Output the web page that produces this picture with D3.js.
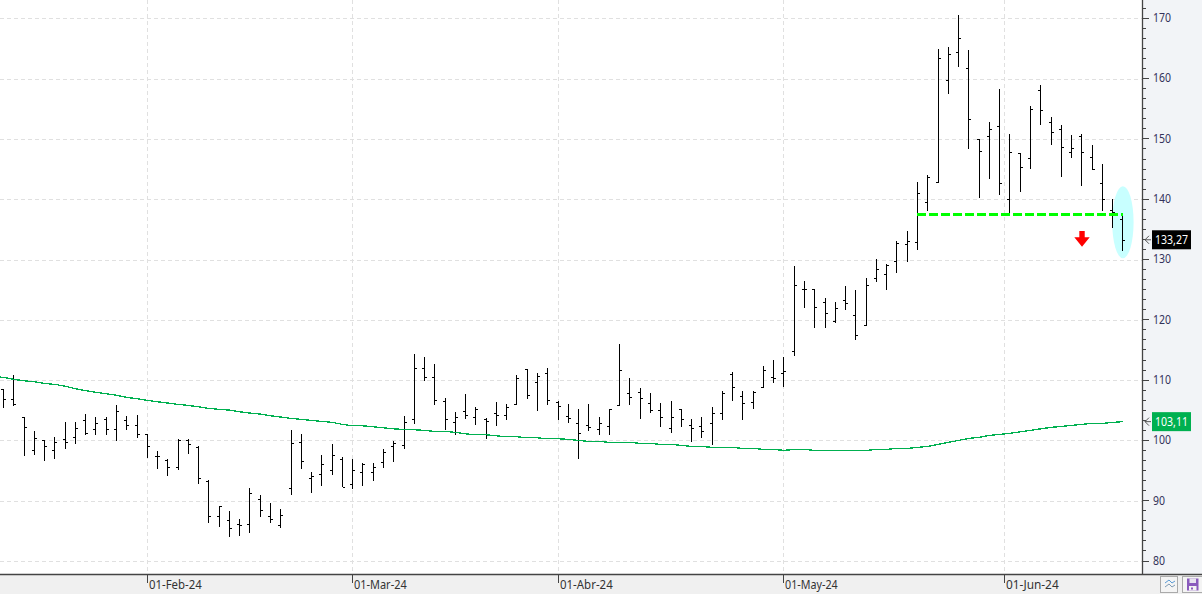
<!DOCTYPE html>
<html><head><meta charset="utf-8">
<script src="https://cdnjs.cloudflare.com/ajax/libs/d3/7.8.5/d3.min.js"></script>
<style>
html,body{margin:0;padding:0;background:#fff;overflow:hidden}
svg{display:block}
text{font-family:"Noto Sans",sans-serif}
</style></head><body><svg id="c" width="1202" height="594"></svg>
<script>
const highs=[108.47,110.84,103.93,101.56,100.06,100.51,103.05,103.05,104.32,103.88,
103.82,105.81,104.10,104.21,101.06,98.24,96.91,100.17,100.17,99.01,
93.37,89.12,88.29,87.02,92.10,90.94,89.56,88.62,101.72,101.06,
94.76,97.58,99.40,97.19,96.92,96.31,96.31,98.57,99.84,104.05,
114.33,113.83,112.67,107.03,104.71,107.69,105.54,103.66,106.37,106.04,
110.85,111.84,111.18,112.01,106.48,106.04,105.21,106.04,103.88,105.21,
115.99,110.35,108.69,107.86,106.20,106.54,105.21,103.55,103.88,105.54,
108.14,111.29,108.19,108.14,112.34,113.34,113.83,128.92,126.44,125.11,
123.62,122.95,125.61,124.94,126.93,130.08,129.20,133.07,134.73,142.86,
144.02,164.91,165.24,170.55,164.75,149.99,152.81,158.28,150.82,147.67,
155.40,158.94,153.64,152.25,150.65,150.82,148.99,145.84,140.04,137.38];
const lows=[105.42,105.76,97.46,97.58,96.64,96.97,98.51,99.45,100.95,100.95,
100.95,99.95,101.78,100.45,97.13,95.31,94.15,95.14,97.80,92.82,
86.35,85.69,84.03,84.20,84.69,87.35,86.35,85.52,91.00,95.31,
91.33,92.49,94.32,92.22,91.94,92.49,93.32,95.48,96.47,98.63,
102.77,109.91,105.93,101.72,100.90,103.60,102.61,100.23,102.39,103.38,
105.98,106.87,104.93,105.93,103.44,102.94,96.97,101.62,100.95,100.95,
105.82,105.93,103.61,104.60,102.28,101.28,102.28,99.79,100.46,99.29,
103.44,106.59,103.44,105.27,108.80,109.58,108.86,114.05,122.01,118.70,
118.70,119.53,121.68,116.71,119.09,126.32,124.94,127.76,129.64,131.63,
138.10,142.75,157.51,161.98,148.38,140.26,143.41,140.76,137.49,141.25,
145.07,152.36,149.05,143.74,146.89,142.25,144.90,138.05,135.28,131.47];
const opens=[108.47,106.81,103.88,98.35,100.01,98.35,100.17,100.51,103.32,101.83,
103.49,101.83,103.32,102.50,101.00,97.41,96.75,95.64,100.06,98.96,
93.32,87.46,86.74,86.19,86.08,90.28,87.40,86.02,92.10,99.68,
93.71,94.37,95.04,96.97,92.71,94.70,94.70,96.36,99.02,99.18,
103.49,111.95,110.46,106.48,103.00,104.82,103.83,103.49,104.49,104.16,
105.98,111.79,109.63,111.12,106.37,103.99,102.83,102.50,101.84,102.39,
105.82,107.81,107.97,106.15,104.99,102.00,105.15,102.50,102.39,102.83,
104.49,110.96,107.42,106.32,108.91,110.46,111.12,114.77,125.06,125.06,
122.90,119.75,123.23,120.80,119.09,126.88,127.55,129.75,132.57,132.91,
139.48,142.91,159.72,164.36,161.71,149.93,150.43,152.09,140.04,147.61,
146.78,158.06,152.75,151.59,147.83,150.43,146.95,142.64,138.16,136.72];
const closes=[106.81,105.98,102.16,100.34,99.01,99.68,99.68,102.05,101.17,102.88,
101.83,104.82,102.55,101.00,99.01,97.46,95.53,100.06,99.34,93.71,
87.46,89.06,85.41,85.97,91.22,88.40,86.91,87.57,99.51,96.53,
94.04,96.14,97.52,92.27,95.04,96.09,95.53,98.02,99.57,103.00,
111.95,110.51,106.64,103.49,103.83,104.16,105.21,103.16,104.16,105.48,
110.29,107.47,110.62,106.64,105.65,103.66,101.17,102.17,102.83,105.15,
111.68,107.14,107.03,105.10,103.88,103.88,103.50,102.00,101.51,104.55,
107.86,108.86,106.15,108.03,111.68,110.30,111.51,125.77,125.06,122.07,
121.13,121.90,122.73,117.43,125.72,128.37,129.09,132.68,133.02,140.98,
143.69,163.37,164.03,166.68,153.25,147.94,151.59,142.64,147.83,145.29,
154.91,154.74,151.09,148.61,148.44,147.83,145.07,139.98,137.83,133.27];
/* moving average; maPrev belongs to the session before the first bar */
const maPrev=110.62;
const maValues=[110.45,110.12,109.89,109.72,109.45,109.29,109.00,108.57,108.24,107.97,
107.74,107.48,107.14,106.91,106.63,106.41,106.20,105.97,105.80,105.57,
105.31,105.14,105.03,104.75,104.53,104.37,104.09,103.87,103.65,103.48,
103.32,103.15,102.99,102.65,102.42,102.42,102.26,102.09,101.92,101.82,
101.76,101.66,101.49,101.49,101.33,101.09,100.93,100.93,100.76,100.60,
100.60,100.43,100.43,100.27,100.27,100.17,100.00,99.83,99.83,99.67,
99.67,99.67,99.50,99.50,99.34,99.34,99.17,99.00,99.00,98.84,
98.84,98.84,98.67,98.67,98.51,98.51,98.34,98.51,98.51,98.34,
98.34,98.34,98.34,98.34,98.34,98.51,98.51,98.67,98.67,98.84,
99.00,99.34,99.67,100.00,100.33,100.50,100.83,101.00,101.16,101.43,
101.66,101.92,102.16,102.32,102.49,102.65,102.82,102.82,102.99,103.11];
const dateLabels=["01-Feb-24","01-Mar-24","01-Abr-24","01-May-24","01-Jun-24"];
const dateIndex=[14,34,54,76,97.5];
const yMajor=[80,90,100,110,120,130,140,150,160,170];
const lastPriceLabel="133,27";
const lastMaLabel="103,11";
const signalLevel=137.5, signalFrom=89, signalTo=109;
const ovalIndex=109, ovalTop=142.14, ovalBottom=130.2;
const arrowIndex=105, arrowTop=134.72;

const W=1202,H=594,axisX=1142,axisY=574;
const svg=d3.select("#c");
const x=d3.scaleLinear().domain([0,109]).range([3.5,1122.9]);
const y=d3.scaleLinear().domain([80,170]).range([561.0,18.3]);
const px=i=>Math.floor(x(i))+0.5;
const py=v=>Math.round(y(v))+0.5;

svg.append("rect").attr("x",axisX).attr("y",0).attr("width",W-axisX).attr("height",axisY).attr("fill","#f2f4f7");
svg.append("rect").attr("x",0).attr("y",axisY).attr("width",W).attr("height",H-axisY).attr("fill","#f0f0f0");

const grid=svg.append("g").attr("stroke","#e0e0e0").attr("stroke-width",1).attr("stroke-dasharray","4 3").attr("shape-rendering","crispEdges");
grid.selectAll("line.h").data(yMajor).join("line").attr("class","h")
 .attr("x1",0).attr("x2",axisX).attr("y1",d=>py(d)).attr("y2",d=>py(d));
grid.selectAll("line.v").data(dateIndex).join("line").attr("class","v")
 .attr("x1",d=>px(d)).attr("x2",d=>px(d)).attr("y1",0).attr("y2",axisY);

svg.append("ellipse").attr("cx",x(ovalIndex)).attr("cy",(y(ovalTop)+y(ovalBottom))/2)
 .attr("rx",10.7).attr("ry",(y(ovalBottom)-y(ovalTop))/2).attr("fill","#c8ffff");

const n=highs.length, idx=d3.range(n);
const bars=svg.append("g").attr("stroke","#000").attr("stroke-width",1).attr("shape-rendering","crispEdges");
bars.selectAll("line.r").data(idx).join("line").attr("class","r")
 .attr("x1",px).attr("x2",px).attr("y1",i=>Math.round(y(highs[i]))).attr("y2",i=>Math.round(y(lows[i])));
bars.selectAll("line.o").data(idx).join("line").attr("class","o")
 .attr("x1",i=>px(i)-2.5).attr("x2",px).attr("y1",i=>py(opens[i])).attr("y2",i=>py(opens[i]));
bars.selectAll("line.c").data(idx).join("line").attr("class","c")
 .attr("x1",px).attr("x2",i=>px(i)+2.5).attr("y1",i=>py(closes[i])).attr("y2",i=>py(closes[i]));

const maPts=[[-1,maPrev]].concat(maValues.map((v,i)=>[i,v]));
svg.append("path").datum(maPts).attr("fill","none").attr("stroke","#00b050").attr("stroke-width",1.3)
 .attr("shape-rendering","crispEdges")
 .attr("d",d3.line().x(d=>x(d[0])).y(d=>y(d[1])));

svg.append("line").attr("x1",x(signalFrom)-1).attr("x2",x(signalTo)).attr("y1",y(signalLevel)).attr("y2",y(signalLevel))
 .attr("stroke","#00ff00").attr("stroke-width",3).attr("stroke-dasharray","9 3").attr("shape-rendering","crispEdges");

const ax=x(arrowIndex)+0.2, ay=y(arrowTop);
svg.append("path").attr("fill","#ff0000").attr("transform",`translate(${ax},${ay})`)
 .attr("d","M-2.7,0H2.7V6.3H7.7L0,15.7L-7.7,6.3H-2.7Z");

/* axes */
const minor=d3.range(0,56).map(k=>80+k*10/6).filter(v=>!yMajor.some(m=>Math.abs(m-v)<1e-6)&&v<172);
const axMinor=d3.axisRight(y).tickValues(minor).tickSize(4).tickFormat("").offset(0);
const axMajor=d3.axisRight(y).tickValues(yMajor).tickSize(7).tickPadding(4).tickFormat(d3.format("d")).offset(0);
const gMinor=svg.append("g").attr("transform",`translate(${axisX},0)`).call(axMinor);
const gMajor=svg.append("g").attr("transform",`translate(${axisX},0)`).call(axMajor);
[gMinor,gMajor].forEach(g=>{g.select(".domain").remove();
 g.selectAll("line").attr("stroke","#444").attr("shape-rendering","crispEdges");});
gMajor.selectAll("text").attr("font-size",12).attr("fill","#33335a").style("font-family",'"Noto Sans",sans-serif')
 .attr("x",11).attr("textLength",d=>d>=100?18:12).attr("lengthAdjust","spacingAndGlyphs");

const xDates=d3.scaleOrdinal().domain(dateLabels).range(dateIndex.map(px));
const axBottom=d3.axisBottom(xDates).tickSize(9).tickPadding(3).offset(0);
const gx=svg.append("g").attr("transform",`translate(0,${axisY})`).call(axBottom);
gx.select(".domain").remove();
gx.selectAll("line").attr("stroke","#444").attr("shape-rendering","crispEdges");
gx.selectAll("text").attr("text-anchor","start").attr("x",1.5).attr("y",6).attr("font-size",12).attr("fill","#333")
 .style("font-family",'"Noto Sans",sans-serif').attr("textLength",52.7).attr("lengthAdjust","spacingAndGlyphs");

svg.append("line").attr("x1",axisX+0.5).attr("x2",axisX+0.5).attr("y1",0).attr("y2",axisY).attr("stroke","#444").attr("stroke-width",1.3);
svg.append("line").attr("x1",0).attr("x2",W).attr("y1",axisY+0.5).attr("y2",axisY+0.5).attr("stroke","#444").attr("stroke-width",1.3);

function badge(value,label,fill){
 const cy=y(value);
 svg.append("path").attr("fill","none").attr("stroke","#555").attr("stroke-width",1)
  .attr("d",`M1151,${cy}H1145M1149,${cy-4}L1145,${cy}L1149,${cy+4}`);
 svg.append("rect").attr("x",1152).attr("y",cy-9.5).attr("width",39).attr("height",19).attr("fill",fill);
 svg.append("text").attr("x",1155).attr("y",cy+4.3).attr("font-size",12).attr("fill","#fff")
  .attr("textLength",33).attr("lengthAdjust","spacingAndGlyphs").text(label);
}
badge(closes[n-1],lastPriceLabel,"#000");
badge(maValues[n-1],lastMaLabel,"#00b050");

/* toolbar buttons */
const b=svg.append("g");
b.append("rect").attr("x",1160.5).attr("y",576.5).attr("width",17).attr("height",16).attr("fill","#f4f4f4").attr("stroke","#aaa");
b.append("path").attr("fill","none").attr("stroke","#5b9bd5").attr("stroke-width",1).attr("d","M1165,583L1169,580L1172,583L1175,581");
b.append("path").attr("fill","none").attr("stroke","#7f9bb5").attr("stroke-width",1).attr("d","M1165,587L1169,584L1172,587L1175,585");
b.append("rect").attr("x",1182.5).attr("y",576.5).attr("width",20).attr("height",16).attr("fill","#f4f4f4").attr("stroke","#aaa");
b.append("path").attr("fill","#8a5bbd").attr("d","M1187,578.5H1198.5V590.5H1187Z");
b.append("rect").attr("x",1189.5).attr("y",578.5).attr("width",6.5).attr("height",4.5).attr("fill","#e8e4f0");
b.append("rect").attr("x",1189).attr("y",586).attr("width",7.5).attr("height",4.5).attr("fill","#f4f4f4");
b.append("rect").attr("x",1191).attr("y",587.5).attr("width",2).attr("height",2).attr("fill","#8a5bbd");
</script></body></html>
